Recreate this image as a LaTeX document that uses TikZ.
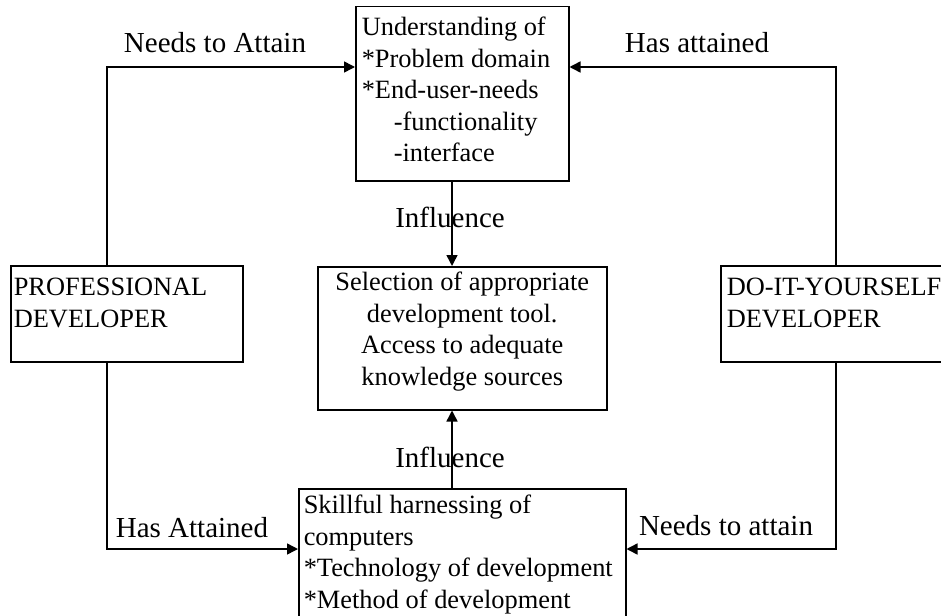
\documentclass[tikz,border=0pt]{standalone}
\usepackage{fontspec}
\setmainfont{Liberation Serif}
\usetikzlibrary{arrows.meta}
\newcommand{\boxtxt}[5]{%
\begin{minipage}[t][#2][t]{#1}\raggedright\leftskip=#3\relax\rule{0pt}{#4}#5\end{minipage}}
\newcommand{\boxtxtc}[4]{%
\begin{minipage}[t][#2][t]{#1}\centering\rule{0pt}{#3}#4\end{minipage}}
\tikzset{
  box/.style={draw, line width=1.5pt, inner sep=0pt, anchor=north west,
    font=\fontsize{26.4}{31.5}\selectfont},
  lbl/.style={inner sep=0pt, anchor=base, font=\fontsize{29}{34}\selectfont},
  arr/.style={line width=1.5pt, -{Triangle[length=11pt,width=11pt]}}
}
\begin{document}
\begin{tikzpicture}[x=1pt,y=-1pt]
\useasboundingbox (0,0) rectangle (941,615);
\clip (0,0) rectangle (941,615);
\fill[white] (0,0) rectangle (941,615);
\node[box] (und) at (355,6) {\boxtxt{213pt}{174pt}{6pt}{29pt}{Understanding of\\{}*Problem domain\\{}*End-user-needs\\\hspace*{32pt}-functionality\\\hspace*{32pt}-interface}};
\node[box] (pro) at (10,265) {\boxtxt{232pt}{96pt}{3pt}{30pt}{PROFESSIONAL\\DEVELOPER}};
\node[box] (diy) at (720,265) {\boxtxt{240pt}{96pt}{6pt}{30pt}{DO-IT-YOURSELF\\DEVELOPER}};
\node[box] (sel) at (317,266) {\boxtxtc{289pt}{143pt}{24pt}{Selection of appropriate\\development tool.\\Access to adequate\\knowledge sources}};
\node[box] (skl) at (298,488) {\boxtxt{327pt}{150pt}{5pt}{25pt}{Skillful harnessing of\\computers\\{}*Technology of development\\{}*Method of development}};
\node[lbl] (l1) at (215,53) {Needs to Attain};
\node[lbl] (l2) at (697,53) {Has attained};
\node[lbl] (l3) at (450,227) {Influence};
\node[lbl] (l4) at (450,467) {Influence};
\node[lbl] (l5) at (192,537) {Has Attained};
\node[lbl] (l6) at (726,535) {Needs to attain};
\coordinate (tl) at (107,67);
\coordinate (tr) at (836,67);
\coordinate (bl) at (107,549);
\coordinate (br) at (836,549);
\coordinate (cx) at (452,0);
\draw[arr] (pro.north -| tl) |- (und.west |- tl);
\draw[arr] (diy.north -| tr) |- (und.east |- tr);
\draw[arr] (und.south -| cx) -- (sel.north -| cx);
\draw[arr] (skl.north -| cx) -- (sel.south -| cx);
\draw[arr] (pro.south -| bl) |- (skl.west |- bl);
\draw[arr] (diy.south -| br) |- (skl.east |- br);
\end{tikzpicture}
\end{document}
